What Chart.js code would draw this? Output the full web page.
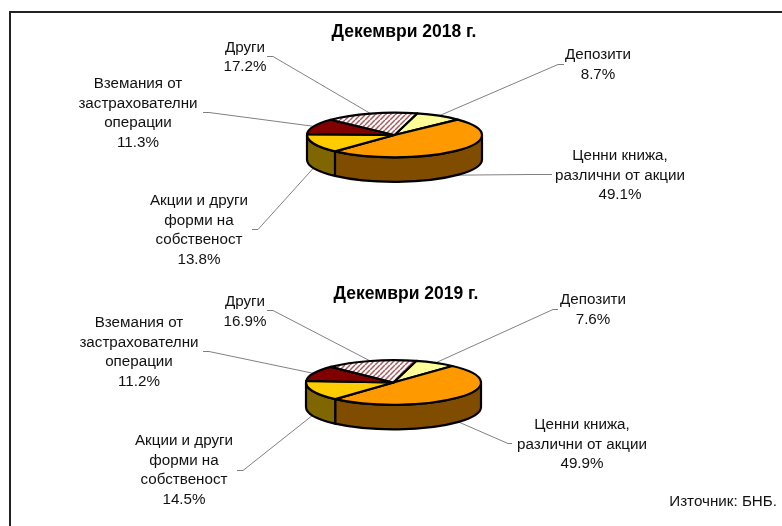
<!DOCTYPE html>
<html lang="bg">
<head>
<meta charset="utf-8">
<title>Декември 2018 г. и 2019 г.</title>
<script src="https://cdn.jsdelivr.net/npm/chart.js@4"></script>
<style>
    html, body { margin: 0; padding: 0; background: #fff; }
    body { width: 782px; height: 526px; position: relative; overflow: hidden; font-family: "Liberation Sans", Arial, sans-serif; }
    canvas { position: absolute; left: 0; top: 0; }
    #frame { position: absolute; left: 9px; top: 11px; right: 0; bottom: 0; border-left: 2px solid #222; border-top: 2px solid #222; }
    #source { position: absolute; right: 5px; top: 492px; font-size: 15.2px; line-height: 18px; color: #111; }
</style>
</head>
<body>
<div id="frame"></div>
<canvas id="pie2018" width="782" height="526"></canvas>
<canvas id="pie2019" width="782" height="526"></canvas>
<div id="source">Източник: БНБ.</div>
<script>
const categories = ['Депозити', 'Ценни книжа, различни от акции', 'Акции и други форми на собственост', 'Вземания от застрахователни операции', 'Други'];
const labelLines = [
    ['Депозити'],
    ['Ценни книжа,', 'различни от акции'],
    ['Акции и други', 'форми на', 'собственост'],
    ['Вземания от', 'застрахователни', 'операции'],
    ['Други']
];
const values2018 = [8.7, 49.1, 13.8, 11.3, 17.2];
const values2019 = [7.6, 49.9, 14.5, 11.2, 16.9];

const topColors = ['#ffff99', '#ff9900', '#ffcc00', '#800000', null];
const sideColors = ['#7f7f4c', '#7f4c00', '#7f6600', '#400000', '#7f7f7f'];

// label centre (x, y of first line) and where its leader line starts (ex, ey, bend at bx)
const layout2018 = [
    { x: 598, y: 55, ex: 564, ey: 64, bx: 558 },
    { x: 620, y: 156, ex: 552, ey: 174, bx: 530 },
    { x: 199, y: 201, ex: 252, ey: 229, bx: 258 },
    { x: 138, y: 84, ex: 203, ey: 112, bx: 209 },
    { x: 245, y: 47.5, ex: 267, ey: 56, bx: 273 }
];
const layout2019 = [
    { x: 593, y: 300, ex: 558, ey: 309, bx: 553 },
    { x: 582, y: 425, ex: 512, ey: 443, bx: 508 },
    { x: 184, y: 441, ex: 237, ey: 470, bx: 243 },
    { x: 139, y: 323, ex: 203, ey: 351, bx: 209 },
    { x: 245, y: 302, ex: 267, ey: 310, bx: 273 }
];

function hatchPattern() {
    const c = document.createElement('canvas');
    c.width = 5;
    c.height = 5;
    const g = c.getContext('2d');
    g.fillStyle = '#fff';
    g.fillRect(0, 0, 5, 5);
    g.strokeStyle = '#a85858';
    g.lineWidth = 1.5;
    for (let i = -5; i <= 10; i += 5) {
        g.beginPath();
        g.moveTo(i, 5);
        g.lineTo(i + 5, 0);
        g.stroke();
    }
    return document.createElement('canvas').getContext('2d').createPattern(c, 'repeat');
}

// draws the pie as a tilted disc, using the angles chart.js worked out for each arc
const pie3d = {
    id: 'pie3d',
    afterLayout(chart, args, opts) {
        chart.titleBlock.left += opts.titleShift;
        chart.titleBlock.right += opts.titleShift;
    },
    beforeDatasetDraw(chart, args, opts) {
        const ctx = chart.ctx;
        const arcs = chart.getDatasetMeta(0).data;
        const depth = opts.depth;

        ctx.save();
        ctx.lineJoin = 'round';

        arcs.forEach((arc, i) => {
            const rx = arc.outerRadius;
            const ry = rx * opts.tilt;
            const mid = (arc.startAngle + arc.endAngle) / 2;
            const px = arc.x + Math.cos(mid) * rx;
            const py = arc.y + Math.sin(mid) * ry + (Math.sin(mid) > 0 ? depth : 0);
            const pos = opts.layout[i];

            ctx.strokeStyle = '#808080';
            ctx.lineWidth = 1;
            ctx.beginPath();
            ctx.moveTo(pos.ex, pos.ey + 0.5);
            ctx.lineTo(pos.bx, pos.ey + 0.5);
            ctx.lineTo(px, py);
            ctx.stroke();
        });

        ctx.strokeStyle = '#000';
        ctx.lineWidth = 2.2;
        arcs.forEach((arc, i) => {
            const rx = arc.outerRadius;
            const ry = rx * opts.tilt;
            [0, 2 * Math.PI].forEach(shift => {
                const a = Math.max(arc.startAngle - shift, 0);
                const b = Math.min(arc.endAngle - shift, Math.PI);
                if (b <= a) return;
                ctx.beginPath();
                ctx.ellipse(arc.x, arc.y, rx, ry, 0, a, b);
                ctx.ellipse(arc.x, arc.y + depth, rx, ry, 0, b, a, true);
                ctx.closePath();
                ctx.fillStyle = sideColors[i];
                ctx.fill();
                ctx.stroke();
            });
        });

        arcs.forEach(arc => {
            const rx = arc.outerRadius;
            const ry = rx * opts.tilt;
            ctx.beginPath();
            ctx.moveTo(arc.x, arc.y);
            ctx.ellipse(arc.x, arc.y, rx, ry, 0, arc.startAngle, arc.endAngle);
            ctx.closePath();
            ctx.fillStyle = arc.options.backgroundColor;
            ctx.fill();
            ctx.stroke();
        });

        ctx.fillStyle = '#111';
        ctx.font = '15.2px "Liberation Sans", Arial, sans-serif';
        ctx.textAlign = 'center';
        ctx.textBaseline = 'middle';
        opts.layout.forEach((pos, i) => {
            const lines = labelLines[i].concat(opts.values[i].toFixed(1) + '%');
            lines.forEach((line, n) => ctx.fillText(line, pos.x, pos.y + n * 19.5));
        });

        ctx.restore();
        return false;
    }
};

function makePie(id, titleText, values, layout, box) {
    return new Chart(document.getElementById(id), {
        type: 'pie',
        data: {
            labels: categories,
            datasets: [{
                data: values,
                backgroundColor: topColors.map(c => c || hatchPattern()),
                borderWidth: 0
            }]
        },
        options: {
            responsive: false,
            animation: false,
            rotation: 15,
            radius: 87.5,
            layout: { padding: { left: box.left, right: box.right, top: 0, bottom: box.bottom } },
            plugins: {
                legend: { display: false },
                tooltip: { enabled: false },
                title: {
                    display: true,
                    text: titleText,
                    color: '#000',
                    font: { family: '"Liberation Sans", Arial, sans-serif', size: 17.5, weight: 'bold' },
                    padding: { top: box.titleTop, bottom: 0 }
                },
                pie3d: { values: values, layout: layout, tilt: 0.255, depth: 24.5, titleShift: box.titleShift }
            }
        },
        plugins: [pie3d]
    });
}

makePie('pie2018', 'Декември 2018 г.', values2018, layout2018, { left: 307, right: 300, bottom: 298.5, titleTop: 21.5, titleShift: 9.5 });
makePie('pie2019', 'Декември 2019 г.', values2019, layout2019, { left: 306, right: 301, bottom: 65.5, titleTop: 283.5, titleShift: 12.5 });
</script>
</body>
</html>
